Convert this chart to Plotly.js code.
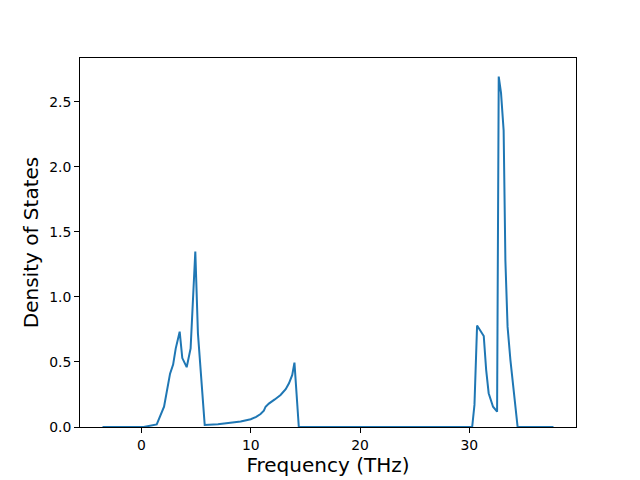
<!DOCTYPE html>
<html>
<head>
<script src="https://cdn.plot.ly/plotly-3.0.1.min.js"></script>
<style>body{margin:0;padding:0;}#plot{width:640px;height:480px;}</style>
</head>
<body>
<div id="plot"></div>
<script>
const freq = [-3.56, -2.0, 0.0, 0.2, 1.4, 1.76, 2.07, 2.62, 2.9, 3.14, 3.5, 3.74, 4.14, 4.5, 4.63, 4.93, 5.17, 5.79, 7.0, 8.18, 9.08, 10.0, 10.5, 10.9, 11.2, 11.36, 11.66, 12.2, 12.73, 13.2, 13.5, 13.8, 14.0, 14.4, 20.0, 30.26, 30.47, 30.71, 31.32, 31.54, 31.77, 32.17, 32.54, 32.69, 32.9, 33.14, 33.3, 33.5, 33.76, 34.06, 34.42, 37.7];
const dos = [0, 0, 0, 0, 0.02, 0.09, 0.156, 0.41, 0.48, 0.605, 0.733, 0.53, 0.46, 0.605, 0.82, 1.35, 0.72, 0.015, 0.022, 0.033, 0.043, 0.06, 0.078, 0.1, 0.125, 0.156, 0.18, 0.212, 0.246, 0.29, 0.336, 0.40, 0.495, 0, 0, 0, 0.17, 0.78, 0.70, 0.44, 0.26, 0.156, 0.118, 2.695, 2.57, 2.28, 1.28, 0.77, 0.515, 0.26, 0, 0];
const yTicks = [0, 0.5, 1.0, 1.5, 2.0, 2.5];
const xTicks = [0, 10, 20, 30];

const font = "DejaVu Sans, sans-serif";
Plotly.newPlot('plot', [{
  x: freq, y: dos, type: 'scatter', mode: 'lines',
  line: {color: '#1f77b4', width: 2}
}], {
  width: 640, height: 480,
  margin: {l: 80, r: 64, t: 58, b: 53},
  paper_bgcolor: 'white', plot_bgcolor: 'white',
  showlegend: false,
  font: {family: font, color: 'black'},
  xaxis: {
    range: [-5.62, 39.76], tickvals: xTicks, ticktext: xTicks.map(String),
    showgrid: false, zeroline: false, showline: true, mirror: true,
    linecolor: 'black', linewidth: 1, ticks: 'outside', ticklen: 5, tickcolor: 'black',
    tickfont: {size: 13.9, family: font},
    title: {text: 'Frequency (THz)', font: {size: 20, family: font}, standoff: 6}
  },
  yaxis: {
    range: [0, 2.838], tickvals: yTicks, ticktext: yTicks.map(v => v.toFixed(1)),
    showgrid: false, zeroline: false, showline: true, mirror: true,
    linecolor: 'black', linewidth: 1, ticks: 'outside', ticklen: 5, tickcolor: 'black',
    tickfont: {size: 13.9, family: font},
    title: {text: 'Density of States', font: {size: 20, family: font}, standoff: 5}
  }
}, {staticPlot: true});
</script>
</body>
</html>
